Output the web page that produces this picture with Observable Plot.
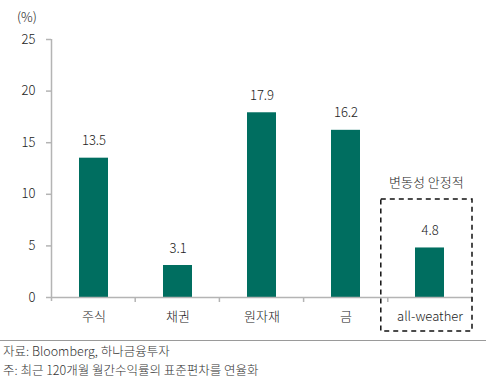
<!DOCTYPE html>
<html><head><meta charset="utf-8">
<script src="https://cdn.jsdelivr.net/npm/d3@7"></script>
<script src="https://cdn.jsdelivr.net/npm/@observablehq/plot@0.6"></script>
<style>
body{margin:0;background:#fff;font-family:"Noto Sans CJK KR","Noto Sans",sans-serif;font-weight:300;}
#wrap{position:relative;width:486px;}
#unit{position:absolute;left:17px;top:7px;font-size:13px;color:#222;}
#notes{border-top:1px solid #9a9a9a;width:486px;padding-top:0;}
#notes div{font-size:12.5px;color:#333;line-height:19px;padding-left:3px;}
</style>
</head><body>
<div id="wrap"><div id="unit"></div><div id="chart"></div><div id="notes"></div></div>
<script>
const categories = ["주식", "채권", "원자재", "금", "all-weather"];
const values = [13.5, 3.1, 17.9, 16.2, 4.8];
const yTicks = [0, 5, 10, 15, 20, 25];
const unitLabel = "(%)";
const highlightCategory = "all-weather";
const highlightLabel = "변동성 안정적";
const sourceNotes = ["자료: Bloomberg, 하나금융투자", "주: 최근 120개월 월간수익률의 표준편차를 연율화"];

const data = categories.map((c, i) => ({category: c, value: values[i]}));
const axisColor = "#b4b4b4";
const barColor = "#006e60";

function decorations(index, scales, vals, dim) {
  const {marginLeft, marginRight, marginTop, width} = dim;
  const n = categories.length;
  const step = (width - marginLeft - marginRight) / n;
  const y0 = scales.y(0);
  const g = d3.create("svg:g");
  g.append("line").attr("x1", marginLeft + 0.5).attr("x2", marginLeft + 0.5)
    .attr("y1", marginTop).attr("y2", y0 + 4).attr("stroke", axisColor).attr("stroke-width", 1.5);
  for (let i = 1; i <= n; i++) {
    const x = marginLeft + i * step;
    g.append("line").attr("x1", x).attr("x2", x).attr("y1", y0).attr("y2", y0 + 5)
      .attr("stroke", axisColor).attr("stroke-width", 1.5);
  }
  const hi = categories.indexOf(highlightCategory);
  const left = marginLeft + hi * step - 7;
  const right = marginLeft + (hi + 1) * step;
  const top = scales.y(9.5);
  const bottom = y0 + 34;
  g.append("rect").attr("x", left).attr("y", top).attr("width", right - left).attr("height", bottom - top)
    .attr("fill", "none").attr("stroke", "#111").attr("stroke-width", 1.5).attr("stroke-dasharray", "5,4");
  g.append("text").attr("x", (left + right) / 2).attr("y", top - 17).attr("dy", "0.35em")
    .attr("text-anchor", "middle").attr("font-size", 13).attr("fill", "#222").text(highlightLabel);
  return g.node();
}

const chart = Plot.plot({
  width: 486,
  height: 340,
  marginLeft: 51,
  marginRight: 14,
  marginTop: 39,
  marginBottom: 43,
  style: {fontFamily: '"Noto Sans CJK KR", sans-serif', fontWeight: 300, fontSize: "13px", color: "#222", background: "#fff"},
  x: {domain: categories, paddingInner: 0.655, paddingOuter: 0.3275, label: null},
  y: {domain: [0, 25], ticks: yTicks, label: null},
  marks: [
    Plot.barY(data, {x: "category", y: "value", fill: barColor}),
    Plot.ruleY([0], {stroke: axisColor, strokeWidth: 1.5}),
    Plot.text(data, {x: "category", y: "value", text: d => d.value.toFixed(1), dy: -17, fontSize: 13, fill: "#222"}),
    Plot.axisY({ticks: yTicks, tickSize: 5, tickPadding: 11, stroke: axisColor, strokeWidth: 1.5, fontSize: 13, label: null}),
    Plot.axisX({tickSize: 0, tickPadding: 14, fontSize: 13, label: null}),
    decorations
  ]
});
document.getElementById("chart").appendChild(chart);
document.getElementById("unit").textContent = unitLabel;
const notes = document.getElementById("notes");
sourceNotes.forEach(t => { const d = document.createElement("div"); d.textContent = t; notes.appendChild(d); });
</script>
</body></html>
